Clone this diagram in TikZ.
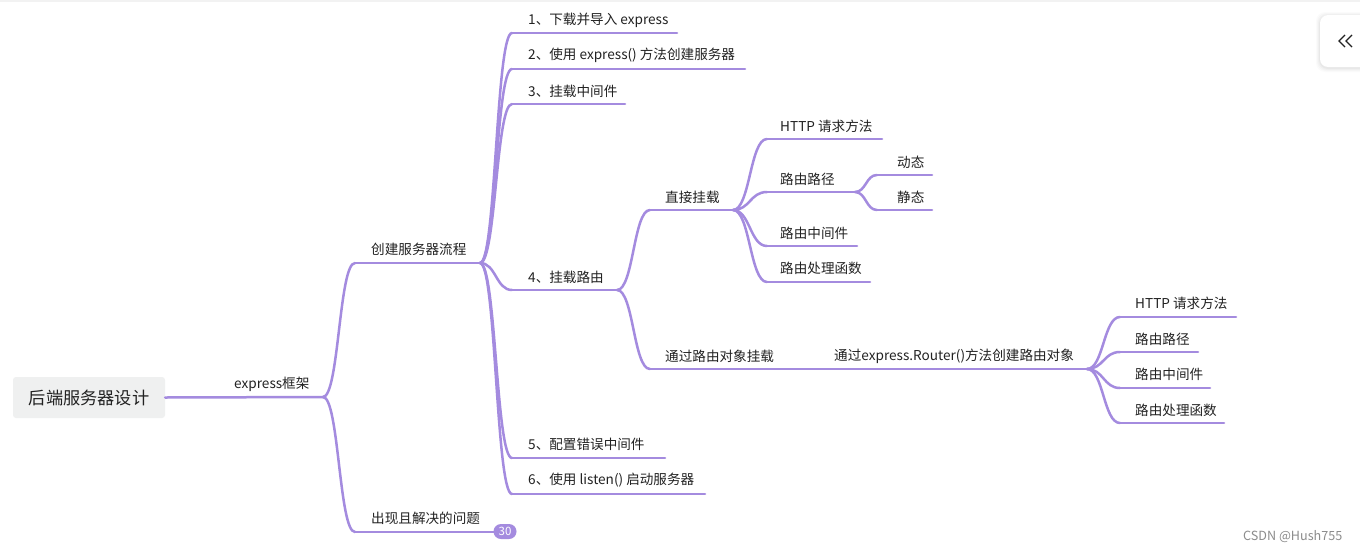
\documentclass[tikz,border=0pt]{standalone}
\usepackage{fontspec}
\setmainfont{Noto Sans CJK SC}
\usetikzlibrary{calc}
\definecolor{lc}{HTML}{A48BDF}
\definecolor{txt}{HTML}{222222}
\definecolor{rootbg}{HTML}{EFF0F0}
\newcommand{\mmlink}[2]{\draw[lnk] let \p1=(#1), \p2=(#2) in (\p1) .. controls ({(\x1+\x2)/2},\y1) and ({(\x1+\x2)/2},\y2) .. (\p2);}
\begin{document}
\begin{tikzpicture}[x=1pt,y=-1pt,
  lnk/.style={draw=lc, line width=2.5pt, line cap=round},
  lbl/.style={anchor=west, inner sep=0pt, font=\fontsize{13.6}{16}\selectfont, text=txt, yshift=-1.5pt},
]
\useasboundingbox (0,0) rectangle (1360,552);
\fill[white] (0,0) rectangle (1360,552);
\fill[black!5] (0,0) rectangle (1360,1.5);

% root
\node[fill=rootbg, rounded corners=3pt, minimum width=152pt, minimum height=41pt, inner sep=0pt,
      font=\fontsize{17.2}{20}\selectfont, text=txt] (root) at (89,397.5) {后端服务器设计};

% level 1: express框架
\coordinate (aE) at (323,397);
\node[lbl] (aT) at (234,383) {express框架};
\draw[lnk] (root.east) -- (aE);

% level 2
\coordinate (bS) at (355,263); \coordinate (bE) at (480,263);
\node[lbl] (bT) at (371,248) {创建服务器流程};
\coordinate (cS) at (355,532); \coordinate (cE) at (497,532);
\node[lbl] (cT) at (371,517) {出现且解决的问题};
\draw[lnk] (bS) -- (bE);
\draw[lnk] (cS) -- (cE);
\mmlink{aE}{bS}
\mmlink{aE}{cS}
\node[fill=lc, rounded corners=7.5pt, minimum width=23pt, minimum height=15pt, inner sep=0pt,
      text=white, font=\fontsize{11.5}{12}\selectfont] (badge) at (505,531.5) {30};

% level 3
\coordinate (s1S) at (512,33);  \coordinate (s1E) at (677,33);
\node[lbl] (s1T) at (528,19) {1、下载并导入 express};
\coordinate (s2S) at (512,69);  \coordinate (s2E) at (745,69);
\node[lbl] (s2T) at (528,54) {2、使用 express() 方法创建服务器};
\coordinate (s3S) at (512,104); \coordinate (s3E) at (625,104);
\node[lbl] (s3T) at (528,90) {3、挂载中间件};
\coordinate (s4S) at (512,290); \coordinate (s4E) at (617,290);
\node[lbl] (s4T) at (528,276) {4、挂载路由};
\coordinate (s5S) at (512,458); \coordinate (s5E) at (665,458);
\node[lbl] (s5T) at (528,443) {5、配置错误中间件};
\coordinate (s6S) at (512,494); \coordinate (s6E) at (705,494);
\node[lbl] (s6T) at (528,479) {6、使用 listen() 启动服务器};
\foreach \k in {s1,s2,s3,s4,s5,s6} {
  \draw[lnk] (\k S) -- (\k E);
  \mmlink{bE}{\k S}
}

% level 4
\coordinate (dS) at (650,210); \coordinate (dE) at (733,210);
\node[lbl] (dT) at (665,196) {直接挂载};
\coordinate (eS) at (650,369); \coordinate (eE) at (818,369);
\node[lbl] (eT) at (665,355) {通过路由对象挂载};
\draw[lnk] (dS) -- (dE);
\draw[lnk] (eS) -- (eE);
\mmlink{s4E}{dS}
\mmlink{s4E}{eS}

% direct children
\coordinate (d1S) at (767,139); \coordinate (d1E) at (882,139);
\node[lbl] (d1T) at (780,125) {HTTP 请求方法};
\coordinate (d2S) at (767,192); \coordinate (d2E) at (855,192);
\node[lbl] (d2T) at (780,178) {路由路径};
\coordinate (d3S) at (767,246); \coordinate (d3E) at (857,246);
\node[lbl] (d3T) at (780,232) {路由中间件};
\coordinate (d4S) at (767,282); \coordinate (d4E) at (870,282);
\node[lbl] (d4T) at (780,267) {路由处理函数};
\foreach \k in {d1,d2,d3,d4} {
  \draw[lnk] (\k S) -- (\k E);
  \mmlink{dE}{\k S}
}
\coordinate (g1S) at (877,175); \coordinate (g1E) at (932,175);
\node[lbl] (g1T) at (897,161) {动态};
\coordinate (g2S) at (877,210); \coordinate (g2E) at (932,210);
\node[lbl] (g2T) at (897,196) {静态};
\foreach \k in {g1,g2} {
  \draw[lnk] (\k S) -- (\k E);
  \mmlink{d2E}{\k S}
}

% router object
\coordinate (fS) at (818,369); \coordinate (fE) at (1087,369);
\node[lbl] (fT) at (834,355) {通过express.Router()方法创建路由对象};
\draw[lnk] (fS) -- (fE);
\coordinate (f1S) at (1120,317); \coordinate (f1E) at (1236,317);
\node[lbl] (f1T) at (1135,302) {HTTP 请求方法};
\coordinate (f2S) at (1120,352); \coordinate (f2E) at (1198,352);
\node[lbl] (f2T) at (1135,338) {路由路径};
\coordinate (f3S) at (1120,388); \coordinate (f3E) at (1210,388);
\node[lbl] (f3T) at (1135,373) {路由中间件};
\coordinate (f4S) at (1120,423); \coordinate (f4E) at (1224,423);
\node[lbl] (f4T) at (1135,409) {路由处理函数};
\foreach \k in {f1,f2,f3,f4} {
  \draw[lnk] (\k S) -- (\k E);
  \mmlink{fE}{\k S}
}

% top-right button
\foreach \i/\o in {4/0.015,3/0.02,2/0.025,1/0.03} {
  \fill[black, opacity=\o, rounded corners=9pt] (1320-\i,15-\i+1) rectangle (1380+\i,67+\i+1);
}
\fill[white, rounded corners=8pt] (1320,15) rectangle (1380,67);
\coordinate (btnc) at (1339,41);
\draw[txt, line width=1.2pt, line join=miter] ([shift={(6,-6)}]btnc) -- ([shift={(0,0)}]btnc) -- ([shift={(6,6)}]btnc);
\draw[txt, line width=1.2pt, line join=miter] ([shift={(13,-6)}]btnc) -- ([shift={(7,0)}]btnc) -- ([shift={(13,6)}]btnc);

% watermark
\node[anchor=west, inner sep=0pt, font=\fontsize{12.6}{14}\selectfont, text=black!45] (wm) at (1243,537) {CSDN @Hush755};
\end{tikzpicture}
\end{document}
